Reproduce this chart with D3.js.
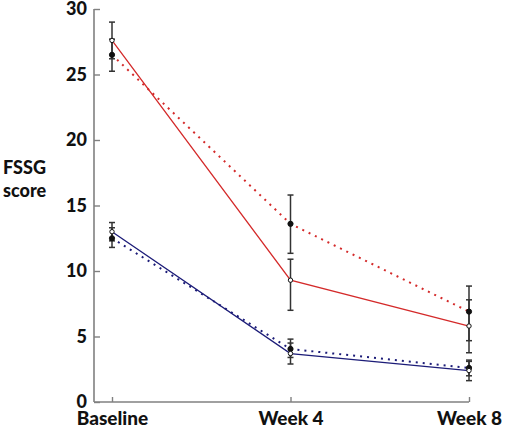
<!DOCTYPE html>
<html><head><meta charset="utf-8">
<script src="https://cdn.jsdelivr.net/npm/d3@7"></script>
<style>body{margin:0;background:#fff}svg{display:block}</style>
</head><body>
<script>
const categories = ["Baseline", "Week 4", "Week 8"];
const yTicks = [0, 5, 10, 15, 20, 25, 30];
// Red series
const redSolid = [27.6, 9.3, 5.8];
const redSolidHi = [29.0, 10.9, 7.8];
const redSolidLo = [26.2, 7.0, 3.76];
const redDotted = [26.5, 13.6, 6.9];
const redDottedHi = [27.7, 15.8, 8.85];
const redDottedLo = [25.25, 11.35, 4.68];
// Blue series
const blueSolid = [13.0, 3.7, 2.4];
const blueSolidHi = [13.7, 4.5, 3.1];
const blueSolidLo = [12.3, 2.9, 1.63];
const blueDotted = [12.5, 4.05, 2.6];
const blueDottedHi = [13.3, 4.8, 3.2];
const blueDottedLo = [11.8, 3.4, 2.0];

const W = 506, H = 432;
const svg = d3.select("body").append("svg").attr("width", W).attr("height", H);
const x = d3.scalePoint().domain(categories).range([112, 469]);
const y = d3.scaleLinear().domain([0, 30]).range([402, 9]);
const font = "Lato, 'Open Sans', sans-serif";
const axisCol = "#808080";

// axes lines
svg.append("line").attr("x1", 94).attr("x2", 94).attr("y1", y(30)).attr("y2", y(0))
  .attr("stroke", axisCol).attr("stroke-width", 1.6);
svg.append("line").attr("x1", 94).attr("x2", x("Week 8")).attr("y1", y(0)).attr("y2", y(0))
  .attr("stroke", axisCol).attr("stroke-width", 1.6);

const ya = svg.append("g").attr("transform", "translate(94,0)")
  .call(d3.axisLeft(y).tickValues(yTicks).tickSize(-6).tickPadding(7).tickFormat(d3.format("d")));
ya.select(".domain").remove();
ya.selectAll("line").attr("stroke", axisCol).attr("stroke-width", 1.4);
ya.selectAll("text").attr("font-family", font).attr("font-weight", 900).attr("font-size", 18).attr("fill", "#111");

const xa = svg.append("g").attr("transform", `translate(0,${y(0)})`)
  .call(d3.axisBottom(x).tickSize(-5).tickPadding(10));
xa.select(".domain").remove();
xa.selectAll("line").attr("stroke", axisCol).attr("stroke-width", 1.4);
xa.selectAll("text").attr("font-family", font).attr("font-weight", 900).attr("font-size", 19).attr("fill", "#111");

// y label
const yl = svg.append("text").attr("font-family", font).attr("font-weight", 900).attr("font-size", 18).attr("fill", "#111");
yl.append("tspan").attr("x", 3).attr("y", 174).text("FSSG");
yl.append("tspan").attr("x", 3).attr("y", 197).text("score");

const line = d3.line().x((d, i) => x(categories[i])).y(d => y(d));
const red = "#d42a2a", blue = "#1c1c78";

function series(vals, col, dotted) {
  const p = svg.append("path").attr("d", line(vals)).attr("fill", "none").attr("stroke", col);
  if (dotted) p.attr("stroke-width", 2).attr("stroke-dasharray", "2,5").attr("stroke-linecap", "butt");
  else p.attr("stroke-width", 1.3);
}
function errbars(hi, lo, col) {
  categories.forEach((c, i) => {
    const cx = x(c);
    svg.append("line").attr("x1", cx).attr("x2", cx).attr("y1", y(hi[i])).attr("y2", y(lo[i]))
      .attr("stroke", col).attr("stroke-width", 1.5);
    [hi[i], lo[i]].forEach(v => svg.append("line").attr("x1", cx - 3).attr("x2", cx + 3)
      .attr("y1", y(v)).attr("y2", y(v)).attr("stroke", col).attr("stroke-width", 1.5));
  });
}
function markers(vals, filled) {
  vals.forEach((v, i) => {
    svg.append("circle").attr("cx", x(categories[i])).attr("cy", y(v)).attr("r", filled ? 2.6 : 2.2)
      .attr("fill", filled ? "#111" : "#fff").attr("stroke", "#111").attr("stroke-width", 1);
  });
}

series(redDotted, red, true);
series(redSolid, red, false);
series(blueDotted, blue, true);
series(blueSolid, blue, false);
errbars(redSolidHi, redSolidLo, "#333");
errbars(redDottedHi, redDottedLo, "#333");
errbars(blueSolidHi, blueSolidLo, "#333");
errbars(blueDottedHi, blueDottedLo, "#333");
markers(redDotted, true);
markers(redSolid, false);
markers(blueDotted, true);
markers(blueSolid, false);
</script>
</body></html>
